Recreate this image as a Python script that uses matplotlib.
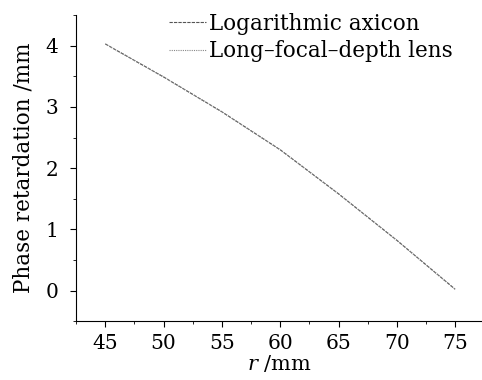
import numpy as np
import matplotlib.pyplot as plt
from matplotlib.ticker import MultipleLocator

plt.rcParams['font.family'] = ['DejaVu Serif']
plt.rcParams['mathtext.fontset'] = 'dejavuserif'

# values
r = [45, 50, 55, 60, 65, 70, 75]
log_axicon = [4.03, 3.49, 2.92, 2.30, 1.58, 0.82, 0.02]
long_focal = [4.03, 3.49, 2.92, 2.30, 1.58, 0.82, 0.02]

fig = plt.figure(figsize=(4.82, 3.8), dpi=100)
ax = fig.add_axes([0.158, 0.155, 0.842, 0.805])

ax.plot(r, log_axicon, color='#555555', lw=0.8, ls=(0, (3, 1)), label='Logarithmic axicon')
ax.plot(r, long_focal, color='#888888', lw=0.8, ls=(0, (1, 1)), label='Long\u2013focal\u2013depth lens')

ax.set_xlim(42.5, 77.3)
ax.set_ylim(-0.5, 4.5)
ax.xaxis.set_major_locator(MultipleLocator(5))
ax.xaxis.set_minor_locator(MultipleLocator(2.5))
ax.yaxis.set_major_locator(MultipleLocator(1))
ax.yaxis.set_minor_locator(MultipleLocator(0.5))
ax.spines['top'].set_visible(False)
ax.spines['right'].set_visible(False)
ax.tick_params(which='major', length=4, labelsize=14.5)
ax.tick_params(axis='y', which='major', pad=9)
ax.tick_params(axis='x', which='major', pad=5)
ax.tick_params(which='minor', length=2)

ax.set_xlabel(r'$r$ /mm', fontsize=15, labelpad=0)
ax.set_ylabel('Phase retardation /mm', fontsize=15.5, labelpad=8)

fig.legend(*ax.get_legend_handles_labels(), loc='upper right',
           bbox_to_anchor=(464 / 482, 1 - 2 / 380), frameon=False, fontsize=15.5,
           handlelength=1.75, handletextpad=0.15, labelspacing=0.25, borderpad=0)

fig.savefig('out.png', dpi=100)
